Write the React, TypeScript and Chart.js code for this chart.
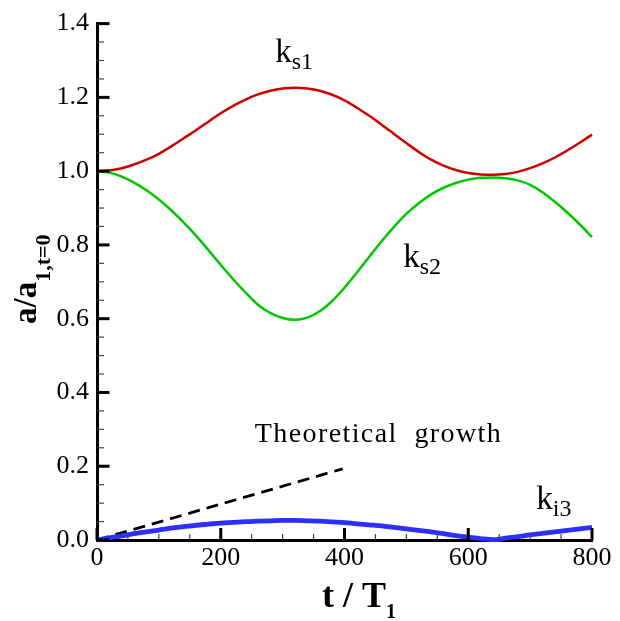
import React, { useEffect, useRef } from 'react';
import { Chart, registerables } from 'chart.js';

Chart.register(...registerables);

// ---- data ----
const T = [
  0, 20, 40, 60, 80, 100, 120, 140, 160, 180, 200, 220, 240, 260, 280, 300, 320, 340, 360, 380, 400,
  420, 440, 460, 480, 500, 520, 540, 560, 580, 600, 620, 640, 660, 680, 700, 720, 740, 760, 780, 800,
];
const KS1 = [
  1.0, 1.002, 1.008, 1.018, 1.031, 1.047, 1.067, 1.089, 1.111, 1.134, 1.157, 1.177, 1.194, 1.208, 1.218, 1.224,
  1.226, 1.224, 1.218, 1.207, 1.192, 1.172, 1.15, 1.126, 1.101, 1.076, 1.052, 1.031, 1.015, 1.003, 0.995,
  0.991, 0.99, 0.992, 0.998, 1.008, 1.021, 1.037, 1.056, 1.077, 1.099,
];
const KS2 = [
  1.0, 0.996, 0.985, 0.969, 0.948, 0.923, 0.894, 0.861, 0.825, 0.786, 0.746, 0.707, 0.671, 0.638, 0.616, 0.602,
  0.597, 0.603, 0.62, 0.648, 0.684, 0.725, 0.768, 0.81, 0.849, 0.884, 0.913, 0.937, 0.955, 0.968, 0.977,
  0.982, 0.983, 0.981, 0.975, 0.963, 0.943, 0.917, 0.888, 0.856, 0.821,
];
const KI3 = [
  0.0, 0.006, 0.011, 0.017, 0.022, 0.027, 0.032, 0.036, 0.04, 0.043, 0.046, 0.048, 0.05, 0.051, 0.052, 0.053,
  0.053, 0.052, 0.051, 0.049, 0.047, 0.044, 0.041, 0.038, 0.034, 0.03, 0.026, 0.022, 0.017, 0.012, 0.008,
  0.004, 0.001, 0.005, 0.009, 0.014, 0.018, 0.022, 0.026, 0.03, 0.034,
];
const THEORY_T = [0, 397];
const THEORY = [0, 0.193];

const X_TICKS = [0, 200, 400, 600, 800];
const Y_TICKS = [0, 0.2, 0.4, 0.6, 0.8, 1.0, 1.2, 1.4];
const X_MINOR_STEP = 50;
const Y_MINOR_STEP = 0.05;

// curve labels: main text, subscript, anchor in data coords
const CURVE_LABELS = [
  { main: 'k', sub: 's1', t: 288, v: 1.297 },
  { main: 'k', sub: 's2', t: 495, v: 0.741 },
  { main: 'k', sub: 'i3', t: 710, v: 0.084 },
];
const THEORY_LABEL = { text: 'Theoretical  growth', t: 255, v: 0.266 };

const SERIF = "'Liberation Serif', 'Times New Roman', Times, serif";

function drawSub(
  ctx: CanvasRenderingContext2D,
  x: number,
  y: number,
  main: string,
  sub: string,
  mainFont: string,
  subFont: string,
  shift: number
) {
  ctx.font = mainFont;
  ctx.textAlign = 'left';
  ctx.textBaseline = 'alphabetic';
  ctx.fillText(main, x, y);
  const w = ctx.measureText(main).width;
  ctx.font = subFont;
  ctx.fillText(sub, x + w, y + shift);
}

const decorPlugin = {
  id: 'decor',
  afterDraw(chart: any) {
    const ctx: CanvasRenderingContext2D = chart.ctx;
    const xs = chart.scales.x;
    const ys = chart.scales.y;
    const { left, bottom } = chart.chartArea;
    ctx.save();
    ctx.lineCap = 'butt';

    // y ticks (inward)
    const yMax = Y_TICKS[Y_TICKS.length - 1];
    for (let i = 0; i * Y_MINOR_STEP <= yMax + 1e-9; i++) {
      const v = i * Y_MINOR_STEP;
      const major = Y_TICKS.some((m) => Math.abs(m - v) < 1e-9);
      const y = ys.getPixelForValue(v);
      ctx.strokeStyle = major ? '#000' : '#444';
      ctx.lineWidth = major ? 3 : 1.2;
      ctx.beginPath();
      ctx.moveTo(left, y);
      ctx.lineTo(left + (major ? 12.5 : 7), y);
      ctx.stroke();
    }
    // x ticks (inward)
    const xMax = X_TICKS[X_TICKS.length - 1];
    for (let i = 0; i * X_MINOR_STEP <= xMax + 1e-9; i++) {
      const v = i * X_MINOR_STEP;
      const major = X_TICKS.includes(v);
      const x = xs.getPixelForValue(v);
      ctx.strokeStyle = major ? '#000' : '#444';
      ctx.lineWidth = major ? 3 : 1.2;
      ctx.beginPath();
      ctx.moveTo(x, bottom);
      ctx.lineTo(x, bottom - (major ? 12 : 6));
      ctx.stroke();
    }

    ctx.fillStyle = '#000';
    // curve labels
    for (const l of CURVE_LABELS) {
      drawSub(
        ctx,
        xs.getPixelForValue(l.t),
        ys.getPixelForValue(l.v),
        l.main,
        l.sub,
        `33px ${SERIF}`,
        `24px ${SERIF}`,
        7
      );
    }

    // theoretical growth label
    ctx.font = `28px ${SERIF}`;
    (ctx as any).letterSpacing = '1.4px';
    ctx.textAlign = 'left';
    ctx.textBaseline = 'alphabetic';
    ctx.fillText(THEORY_LABEL.text, xs.getPixelForValue(THEORY_LABEL.t), ys.getPixelForValue(THEORY_LABEL.v));
    (ctx as any).letterSpacing = '0px';

    // x axis title
    drawSub(ctx, left + 225, 607, 't / T', '1', `bold 36px ${SERIF}`, `bold 20px ${SERIF}`, 11);

    // y axis title (rotated)
    ctx.save();
    ctx.translate(36, 324);
    ctx.rotate(-Math.PI / 2);
    drawSub(ctx, 0, 0, 'a/a', '1,t=0', `bold 33px ${SERIF}`, `bold 22px ${SERIF}`, 14);
    ctx.restore();

    ctx.restore();
  },
};

export default function App() {
  const ref = useRef<HTMLCanvasElement | null>(null);

  useEffect(() => {
    if (!ref.current) return;
    const pts = (xs: number[], ys: number[]) => xs.map((x, i) => ({ x, y: ys[i] }));
    const chart = new Chart(ref.current, {
      type: 'line',
      data: {
        datasets: [
          {
            label: 'ks1',
            data: pts(T, KS1),
            borderColor: '#d00000',
            borderWidth: 2.5,
            pointRadius: 0,
            cubicInterpolationMode: 'monotone',
            clip: false as any,
          },
          {
            label: 'ks2',
            data: pts(T, KS2),
            borderColor: '#00c800',
            borderWidth: 2.5,
            pointRadius: 0,
            cubicInterpolationMode: 'monotone',
            clip: false as any,
          },
          {
            label: 'ki3',
            data: pts(T, KI3),
            borderColor: '#2e2eff',
            borderWidth: 4.8,
            pointRadius: 0,
            cubicInterpolationMode: 'monotone',
            clip: false as any,
          },
          {
            label: 'theory',
            data: pts(THEORY_T, THEORY),
            borderColor: '#000',
            borderWidth: 2.8,
            borderDash: [12, 7],
            pointRadius: 0,
            clip: false as any,
          },
        ],
      },
      options: {
        animation: false,
        responsive: false,
        devicePixelRatio: 1,
        layout: { padding: { top: 15, right: 28, left: 0, bottom: 0 } },
        plugins: { legend: { display: false }, tooltip: { enabled: false } },
        scales: {
          x: {
            type: 'linear',
            min: 0,
            max: 800,
            afterFit: (s: any) => {
              s.height = 81;
            },
            afterBuildTicks: (s: any) => {
              s.ticks = X_TICKS.map((v) => ({ value: v }));
            },
            ticks: {
              color: '#000',
              font: { family: SERIF, size: 26 },
              padding: 3,
              maxRotation: 0,
              callback: (v: any) => String(v),
            },
            grid: { display: true, drawOnChartArea: false, drawTicks: false },
            border: { display: true, color: '#000', width: 3 },
          },
          y: {
            type: 'linear',
            min: 0,
            max: 1.4,
            afterFit: (s: any) => {
              s.width = 97;
            },
            afterBuildTicks: (s: any) => {
              s.ticks = Y_TICKS.map((v) => ({ value: v }));
            },
            ticks: {
              color: '#000',
              font: { family: SERIF, size: 26 },
              padding: 8,
              callback: (v: any) => Number(v).toFixed(1),
            },
            grid: { display: true, drawOnChartArea: false, drawTicks: false },
            border: { display: true, color: '#000', width: 3 },
          },
        },
      },
      plugins: [decorPlugin],
    });
    return () => chart.destroy();
  }, []);

  return (
    <div style={{ position: 'absolute', left: 0, top: 0, width: 620, height: 621, background: '#fff' }}>
      <canvas ref={ref} width={620} height={621} style={{ display: 'block' }} />
    </div>
  );
}
